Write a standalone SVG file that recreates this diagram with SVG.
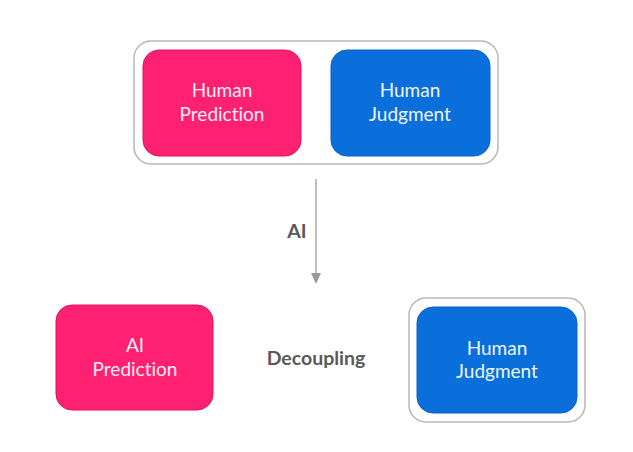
<svg xmlns="http://www.w3.org/2000/svg" width="633" height="452" viewBox="0 0 633 452">
<defs>
<style>
.frame{fill:#ffffff;stroke:#b8b8b8;stroke-width:1.5}
.pink{fill:#ff2171;stroke:#e0105e;stroke-width:1}
.blue{fill:#0a6fdb;stroke:#0a60c0;stroke-width:1}
.lbl{font-family:"Lato","Open Sans",sans-serif;font-size:19px;text-anchor:middle;font-variant-ligatures:none}
.lp{fill:#ffeef5}
.lb{fill:#eef6ff}
.edge{font-family:"Lato","Open Sans",sans-serif;font-size:19.5px;font-weight:bold;fill:#5a5a5a;text-anchor:middle}
</style>
</defs>
<rect width="633" height="452" fill="#ffffff"/>
<g id="top-frame"><rect class="frame" x="134" y="41" width="364" height="123" rx="17"/></g>
<g id="human-prediction">
<rect class="pink" x="143" y="50" width="158" height="106" rx="16"/>
<text class="lbl lp" x="222" y="97">Human</text>
<text class="lbl lp" x="222" y="121">Prediction</text>
</g>
<g id="human-judgment-top">
<rect class="blue" x="331" y="50" width="159" height="106" rx="16"/>
<text class="lbl lb" x="410" y="97">Human</text>
<text class="lbl lb" x="410" y="121">Judgment</text>
</g>
<g id="connectors">
<line x1="316" y1="179" x2="316" y2="274" stroke="#aaaaaa" stroke-width="1.5"/>
<path d="M311,273 L321,273 L316,284 Z" fill="#999999"/>
<text class="edge" x="297" y="238">AI</text>
<text class="edge" x="316" y="365">Decoupling</text>
</g>
<g id="ai-prediction">
<rect class="pink" x="56" y="305" width="157" height="105" rx="16"/>
<text class="lbl lp" x="135" y="352">AI</text>
<text class="lbl lp" x="135" y="376">Prediction</text>
</g>
<g id="bottom-frame"><rect class="frame" x="409" y="298" width="176" height="124" rx="17"/></g>
<g id="human-judgment-bottom">
<rect class="blue" x="417" y="307" width="160" height="106" rx="16"/>
<text class="lbl lb" x="497" y="355">Human</text>
<text class="lbl lb" x="497" y="378">Judgment</text>
</g>
</svg>
